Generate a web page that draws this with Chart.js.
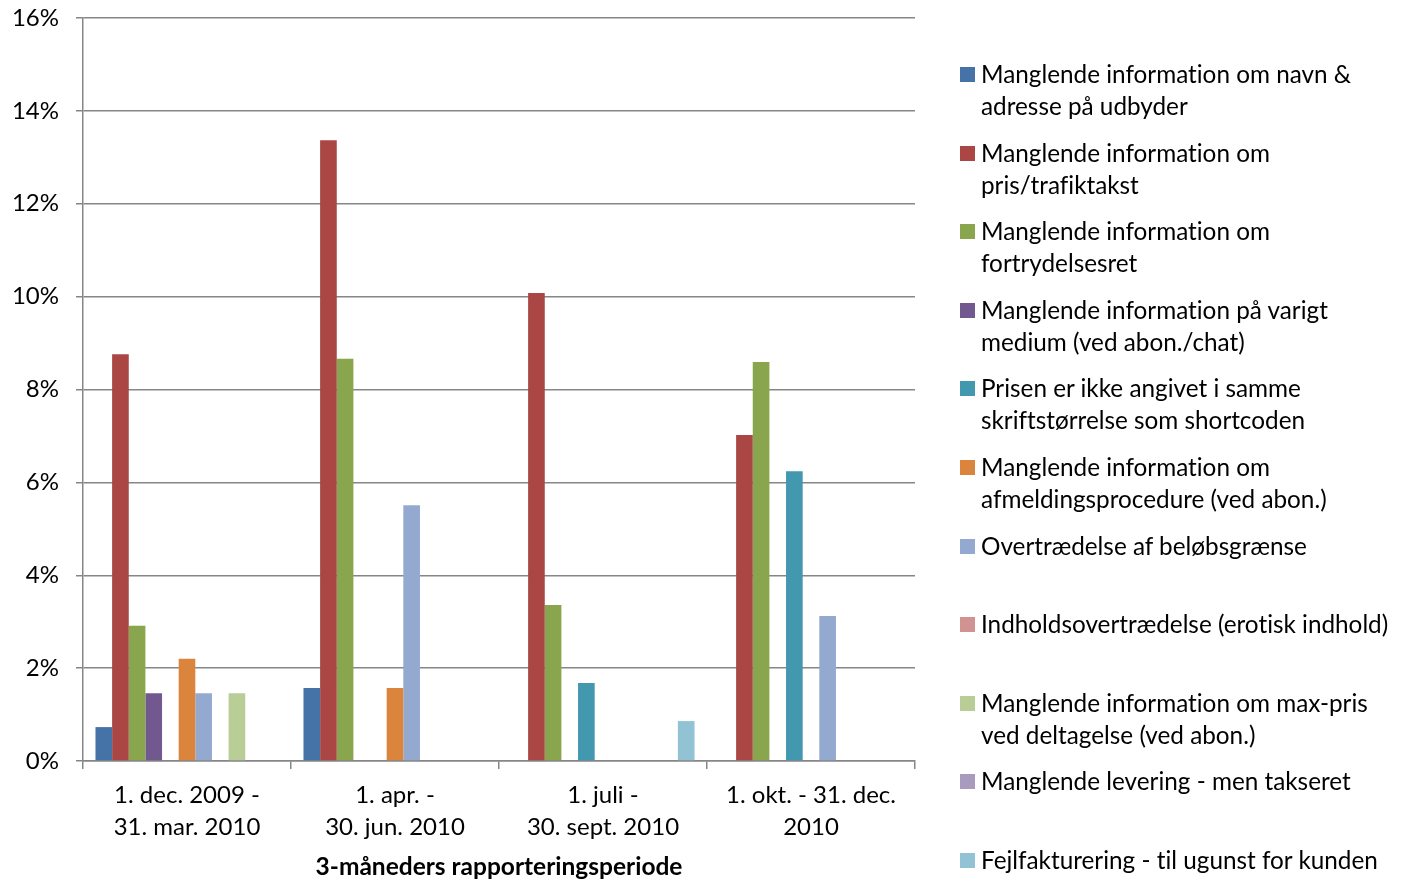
<!DOCTYPE html>
<html>
<head>
<meta charset="utf-8">
<script src="https://cdn.jsdelivr.net/npm/chart.js@4/dist/chart.umd.min.js"></script>
<style>
    body { margin: 0; background: #fff; }
    #wrap { position: relative; width: 1407px; height: 882px; }
    #legend { position: absolute; left: 960px; top: 0; font-family: Lato, sans-serif; font-size: 24.3px; color: #000; font-variant-ligatures: none; }
    .item { position: absolute; left: 0; width: 447px; line-height: 32px; white-space: nowrap; }
    .box { position: absolute; left: 0; top: 9px; width: 15px; height: 15px; }
    .txt { position: absolute; left: 21px; top: 0; }
</style>
</head>
<body>
<div id="wrap">
    <canvas id="chart" width="1407" height="882"></canvas>
    <div id="legend"></div>
</div>
<script>
// Klager fordelt paa type, pr. 3-maaneders periode

const periods = [
    ['1. dec. 2009 -', '31. mar. 2010'],
    ['1. apr. -', '30. jun. 2010'],
    ['1. juli -', '30. sept. 2010'],
    ['1. okt. - 31. dec.', '2010'],
];

const seriesNames = [
    ['Manglende information om navn &', 'adresse på udbyder'],
    ['Manglende information om', 'pris/trafiktakst'],
    ['Manglende information om', 'fortrydelsesret'],
    ['Manglende information på varigt', 'medium (ved abon./chat)'],
    ['Prisen er ikke angivet i samme', 'skriftstørrelse som shortcoden'],
    ['Manglende information om', 'afmeldingsprocedure (ved abon.)'],
    ['Overtrædelse af beløbsgrænse'],
    ['Indholdsovertrædelse (erotisk indhold)'],
    ['Manglende information om max-pris', 'ved deltagelse (ved abon.)'],
    ['Manglende levering - men takseret'],
    ['Fejlfakturering - til ugunst for kunden'],
];

const colors = [
    '#4572A7', '#AA4643', '#89A54E', '#71588F', '#4198AF', '#DB843D',
    '#93A9CF', '#D19392', '#B9CD96', '#A99BBD', '#92C3D4'
];

// procent, en raekke pr. type
const navnAdresse   = [0.73, 1.57, 0, 0];
const prisTakst     = [8.76, 13.37, 10.08, 7.02];
const fortrydelse   = [2.91, 8.66, 3.36, 8.59];
const varigtMedium  = [1.46, 0, 0, 0];
const skriftPris    = [0, 0, 1.68, 6.24];
const afmelding     = [2.2, 1.57, 0, 0];
const beloebsgraense = [1.46, 5.51, 0, 3.12];
const indhold       = [0, 0, 0, 0];
const maxPris       = [1.46, 0, 0, 0];
const levering      = [0, 0, 0, 0];
const fejlfaktura   = [0, 0, 0.86, 0];

const values = [navnAdresse, prisTakst, fortrydelse, varigtMedium, skriftPris,
    afmelding, beloebsgraense, indhold, maxPris, levering, fejlfaktura];

const yTicks = [0, 2, 4, 6, 8, 10, 12, 14, 16];

const axisGrey = '#868686';
Chart.defaults.font.family = 'Lato, sans-serif';
Chart.defaults.color = '#000';

const datasets = values.map((v, i) => ({
    label: seriesNames[i].join(' '),
    data: v,
    backgroundColor: colors[i],
    borderWidth: 0,
    categoryPercentage: 0.88,
    barPercentage: 1
}));

const config = {
    type: 'bar',
    data: { labels: periods, datasets: datasets },
    options: {
        responsive: false,
        animation: false,
        layout: { padding: { left: 0, right: 492, top: 18, bottom: 0 } },
        plugins: {
            legend: { display: false },
            tooltip: { enabled: false }
        },
        scales: {
            x: {
                grid: { drawOnChartArea: false, drawTicks: true, tickLength: 8, color: axisGrey, lineWidth: 1.5 },
                border: { color: axisGrey, width: 1.5 },
                ticks: { font: { size: 24, lineHeight: 1.33 }, padding: 10, maxRotation: 0, autoSkip: false },
                title: {
                    display: true,
                    text: '3-måneders rapporteringsperiode',
                    font: { size: 24.5, weight: 'bold' },
                    padding: { top: 0, bottom: 0 }
                },
                afterFit: (scale) => { scale.height = 882 - 761; }
            },
            y: {
                min: 0,
                max: 16,
                afterBuildTicks: (scale) => { scale.ticks = yTicks.map(v => ({ value: v })); },
                grid: { color: axisGrey, lineWidth: 1.5, tickLength: 7 },
                border: { color: axisGrey, width: 1.5 },
                ticks: { font: { size: 24 }, padding: 17, callback: (v) => v + '%' },
                afterFit: (scale) => {
                    scale.width = 83;
                    scale.paddingTop = 0;
                    scale.paddingBottom = 0;
                }
            }
        }
    }
};

const myChart = new Chart(document.getElementById('chart'), config);

// legende til hoejre
const legend = document.getElementById('legend');
seriesNames.forEach((name, i) => {
    const item = document.createElement('div');
    item.className = 'item';
    item.style.top = (58 + i * 78.6) + 'px';
    const box = document.createElement('div');
    box.className = 'box';
    box.style.background = colors[i];
    const txt = document.createElement('div');
    txt.className = 'txt';
    txt.innerHTML = name.join('<br>');
    item.appendChild(box);
    item.appendChild(txt);
    legend.appendChild(item);
});
</script>
</body>
</html>
